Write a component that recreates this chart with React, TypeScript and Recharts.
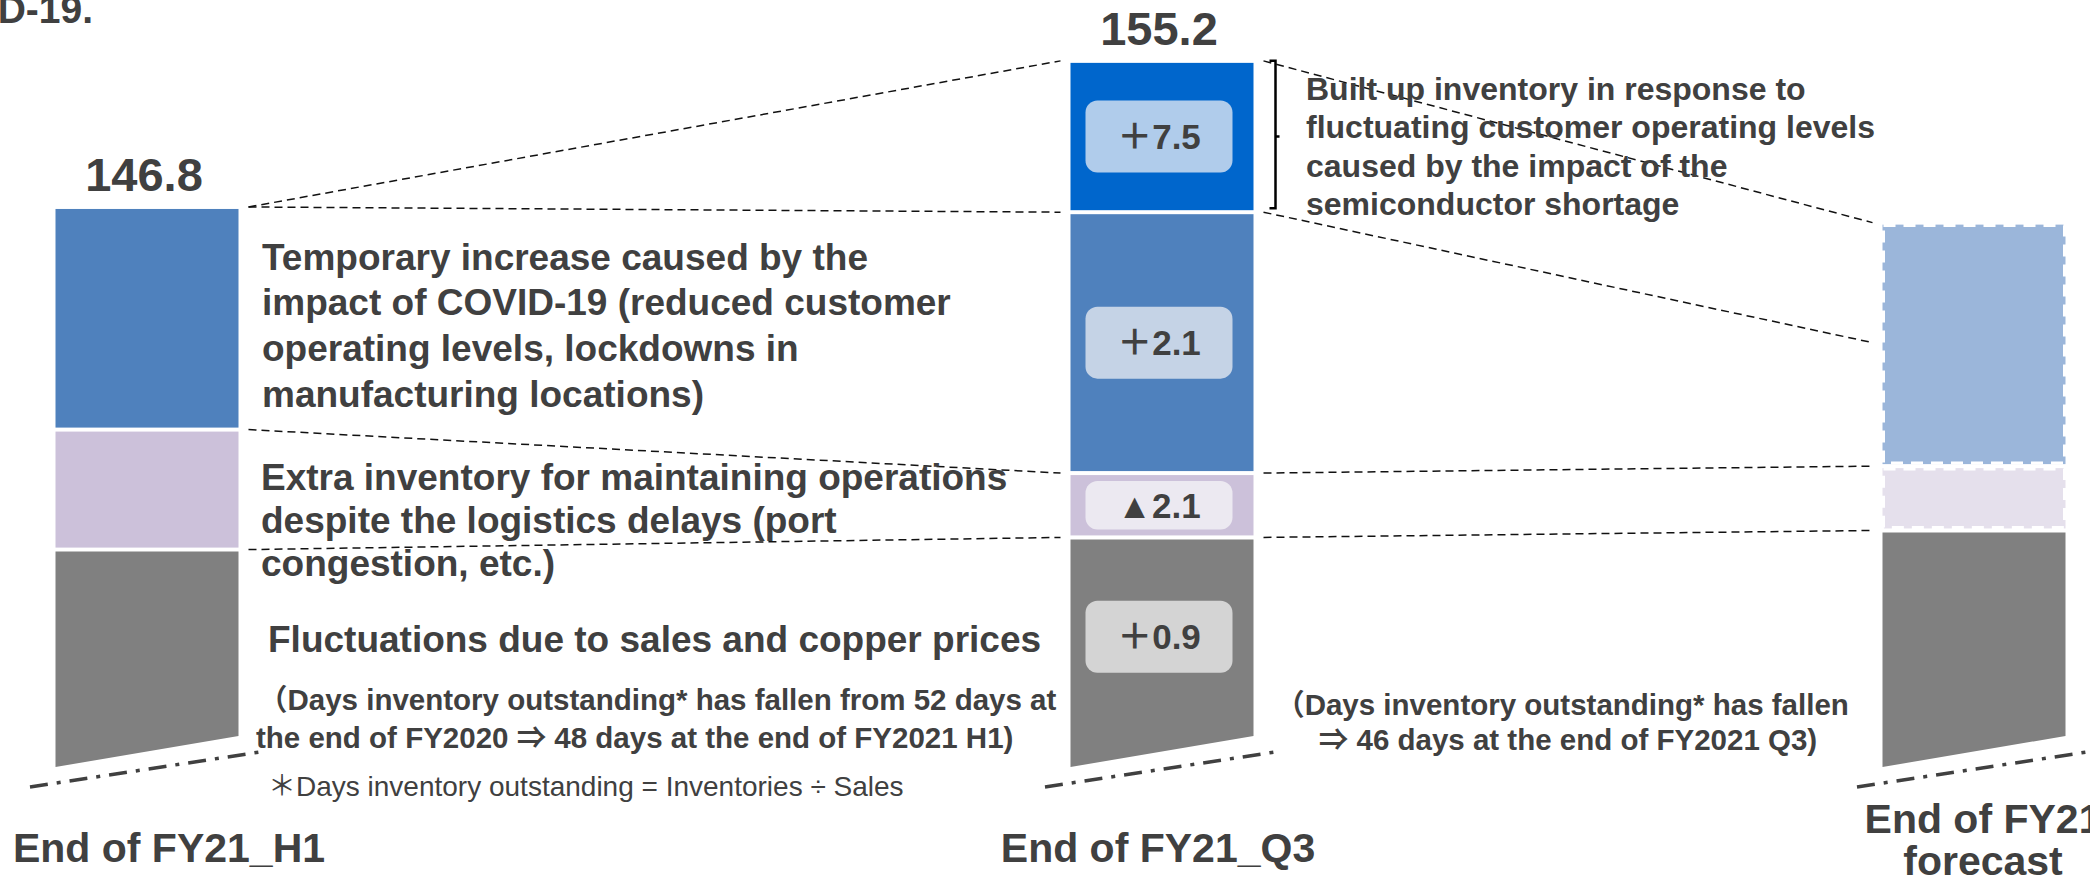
import React from "react";
import { Bar, BarChart, LabelList, ReferenceLine, XAxis, YAxis } from "recharts";

// inventory build-up, billion yen (axis is broken below ~115)
const CATEGORIES = ["End of FY21_H1", "End of FY21_Q3", "End of FY21\nforecast"];
const TOTALS = [146.8, 155.2, null];
const OTHER = [127.1, 127.8, 128.2]; // sales & copper prices
const LOGISTICS = [6.9, 3.7, 3.7]; // logistics delays
const COVID = [12.8, 15.0, 14.0]; // COVID-19 impact
const SEMICONDUCTOR = [0, 8.7, 0]; // semiconductor shortage
const OTHER_CHANGE = ["", "＋0.9", ""];
const LOGISTICS_CHANGE = ["", "▲2.1", ""];
const COVID_CHANGE = ["", "＋2.1", ""];
const SEMICONDUCTOR_CHANGE = ["", "＋7.5", ""];
const COVID_TREND_END = 139.0;

const BAR_SLOT_INDEX = [0, 5, 9];
const SLOTS = ["s0", "s1", "s2", "s3", "s4", "s5", "s6", "s7", "s8", "s9"];
const LABEL_SHIFT = [22, -4, 9];

const FONT = '"Liberation Sans", Arial, "Noto Sans CJK JP", sans-serif';
const TEXT = "#404040";
const PLOT_BOTTOM = 767;
const SLANT = 31;
const GAP = 2;

const COLORS: Record<string, string> = {
  other: "#808080",
  logistics: "#CCC1DA",
  covid: "#4F81BD",
  semi: "#0066CC",
};
const FORECAST_COLORS: Record<string, string> = {
  other: "#808080",
  logistics: "#E5E0EC",
  covid: "#9BB6DA",
};
const BADGE_FILL: Record<string, string> = {
  other: "#D4D4D4",
  logistics: "#ECE9F1",
  covid: "#C5D3E6",
  semi: "#B0CCEB",
};

const KEYS = ["other", "logistics", "covid", "semi"];
const SERIES: Record<string, number[]> = {
  other: OTHER,
  logistics: LOGISTICS,
  covid: COVID,
  semi: SEMICONDUCTOR,
};
const CHANGES: Record<string, string[]> = {
  other: OTHER_CHANGE,
  logistics: LOGISTICS_CHANGE,
  covid: COVID_CHANGE,
  semi: SEMICONDUCTOR_CHANGE,
};

const data = SLOTS.map((slot, i) => {
  const k = BAR_SLOT_INDEX.indexOf(i);
  const row: any = { slot };
  if (k < 0) return row;
  row.forecast = k === 2;
  KEYS.forEach((key) => {
    row[key] = SERIES[key][k];
    row[key + "Chg"] = CHANGES[key][k];
  });
  const topKey = [...KEYS].reverse().find((key) => SERIES[key][k] > 0);
  if (topKey && TOTALS[k] != null) row[topKey + "Total"] = TOTALS[k]!.toFixed(1);
  return row;
});

// stack boundary (top of a series) for a bar
const level = (k: number, key: string) => {
  let sum = 0;
  for (const s of KEYS) {
    sum += SERIES[s][k];
    if (s === key) break;
  }
  return sum;
};

const connectors = [
  ["s1", level(0, "semi"), "s5", level(1, "semi")],
  ["s1", level(0, "covid"), "s5", level(1, "covid")],
  ["s1", level(0, "logistics"), "s5", level(1, "logistics")],
  ["s1", level(0, "other"), "s5", level(1, "other")],
  ["s6", level(1, "semi"), "s9", level(2, "semi")],
  ["s6", level(1, "covid"), "s9", COVID_TREND_END],
  ["s6", level(1, "logistics"), "s9", level(2, "logistics")],
  ["s6", level(1, "other"), "s9", level(2, "other")],
] as [string, number, string, number][];

const segmentShape = (key: string) => (props: any) => {
  const { x, y, width, height, payload } = props;
  if (height == null || height < 1) return null;
  const top = y + GAP;
  if (key === "other") {
    const bottom = Math.min(y + height, PLOT_BOTTOM);
    return (
      <polygon
        points={`${x},${top} ${x + width},${top} ${x + width},${bottom - SLANT} ${x},${bottom}`}
        fill={COLORS.other}
      />
    );
  }
  const h = height - GAP * 2;
  if (payload.forecast) {
    return (
      <g>
        <rect x={x} y={top} width={width} height={h} fill={FORECAST_COLORS[key]} />
        <rect x={x + 1} y={top + 1} width={width - 2} height={h - 2} fill="none"
          stroke="#fff" strokeWidth={3} strokeDasharray="12 8" />
      </g>
    );
  }
  return (
    <g>
      <rect x={x} y={top} width={width} height={h} fill={COLORS[key]} />
      {key === "semi" && (
        <path
          d={`M${x + width + 16},${y} H${x + width + 22} V${y + height - 4} H${x + width + 16} M${x + width + 22},${y + height / 2} H${x + width + 26}`}
          fill="none" stroke="#000" strokeWidth={2.5}
        />
      )}
    </g>
  );
};

const badge = (key: string) => (props: any) => {
  const { value } = props;
  if (!value) return null;
  const vb = props.viewBox ?? props;
  const { x, y, width, height } = vb;
  const bottom = key === "other" ? Math.min(y + height, PLOT_BOTTOM) - SLANT : y + height;
  const cy = (y + bottom) / 2;
  const bh = Math.min(72, bottom - y - 16);
  const size = 35;
  return (
    <g>
      <rect x={x + 15} y={cy - bh / 2} width={width - 36} height={bh} rx={12} fill={BADGE_FILL[key]} />
      <text x={x + 15 + (width - 36) / 2} y={cy + size * 0.36} textAnchor="middle"
        fontFamily={FONT} fontWeight="bold" fontSize={size} fill={TEXT}>
        {value}
      </text>
    </g>
  );
};

const totalLabel = (props: any) => {
  const { value } = props;
  if (!value) return null;
  const vb = props.viewBox ?? props;
  return (
    <text x={vb.x + vb.width / 2 - 3} y={vb.y - 16} textAnchor="middle"
      fontFamily={FONT} fontWeight="bold" fontSize={47} fill={TEXT}>
      {value}
    </text>
  );
};

const SlotTick = (props: any) => {
  const { x, y, payload } = props;
  const k = BAR_SLOT_INDEX.indexOf(SLOTS.indexOf(payload.value));
  if (k < 0) return null;
  const lines = CATEGORIES[k].split("\n");
  const first = y + 95 - (lines.length - 1) * 29;
  return (
    <g>
      <line x1={x - 117} y1={y + 20} x2={x + 113} y2={y - 15}
        stroke={TEXT} strokeWidth={3.5} strokeDasharray="18 9 4 9" />
      {lines.map((line, i) => (
        <text key={i} x={x + LABEL_SHIFT[k]} y={first + i * 42} textAnchor="middle"
          fontFamily={FONT} fontWeight="bold" fontSize={41} fill={TEXT}>
          {line}
        </text>
      ))}
    </g>
  );
};

const Annotations = () => {
  const t = (x: number, y: number, s: string, size: number, extra: any = {}) => (
    <text x={x} y={y} fontFamily={FONT} fontWeight="bold" fontSize={size} fill={TEXT} {...extra}>
      {s}
    </text>
  );
  return (
    <svg width={2090} height={880} style={{ position: "absolute", left: 0, top: 0, pointerEvents: "none" }}>
      {t(93, 23, "COVID-19.", 39, { textAnchor: "end" })}
      {t(262, 270, "Temporary increase caused by the", 37)}
      {t(262, 315, "impact of COVID-19 (reduced customer", 37)}
      {t(262, 361, "operating levels, lockdowns in", 37)}
      {t(262, 407, "manufacturing locations)", 37)}
      {t(261, 490, "Extra inventory for maintaining operations", 37)}
      {t(261, 533, "despite the logistics delays (port", 37)}
      {t(261, 576, "congestion, etc.)", 37)}
      {t(268, 652, "Fluctuations due to sales and copper prices", 37)}
      {t(258, 710, "（Days inventory outstanding* has fallen from 52 days at", 29.5)}
      {t(256, 748, "the end of FY2020 ⇒  48 days at the end of FY2021 H1)", 29.5)}
      {t(268, 796, "＊Days inventory outstanding = Inventories ÷ Sales", 28, { fontWeight: "normal" })}
      {t(1306, 100, "Built up inventory in response to", 32)}
      {t(1306, 138, "fluctuating customer operating levels", 32)}
      {t(1306, 177, "caused by the impact of the", 32)}
      {t(1306, 215, "semiconductor shortage", 32)}
      {t(1562, 715, "（Days inventory outstanding* has fallen", 29.5, { textAnchor: "middle" })}
      {t(1568, 750, "⇒  46 days at the end of FY2021 Q3)", 29.5, { textAnchor: "middle" })}
    </svg>
  );
};

export default function App() {
  return (
    <div style={{ position: "absolute", left: 0, top: 0, width: 2090, height: 880, background: "#fff", overflow: "hidden" }}>
      <BarChart width={2090} height={880} data={data} barCategoryGap={10}
        margin={{ top: 0, right: 14.5, bottom: 0, left: 45.5 }}>
        <XAxis dataKey="slot" height={113} interval={0} tick={<SlotTick />}
          tickSize={0} tickMargin={0} tickLine={false} axisLine={false} />
        <YAxis hide domain={[114.6, 158.7]} allowDataOverflow />
        {connectors.map(([x1, y1, x2, y2], i) => (
          <ReferenceLine key={i} segment={[{ x: x1, y: y1 }, { x: x2, y: y2 }]} position="start"
            stroke="#111" strokeWidth={1.5} strokeDasharray="8 5" ifOverflow="visible" />
        ))}
        {KEYS.map((key) => (
          <Bar key={key} dataKey={key} stackId="inv" isAnimationActive={false} shape={segmentShape(key)}>
            <LabelList dataKey={key + "Chg"} content={badge(key)} />
            <LabelList dataKey={key + "Total"} content={totalLabel} />
          </Bar>
        ))}
      </BarChart>
      <Annotations />
    </div>
  );
}
